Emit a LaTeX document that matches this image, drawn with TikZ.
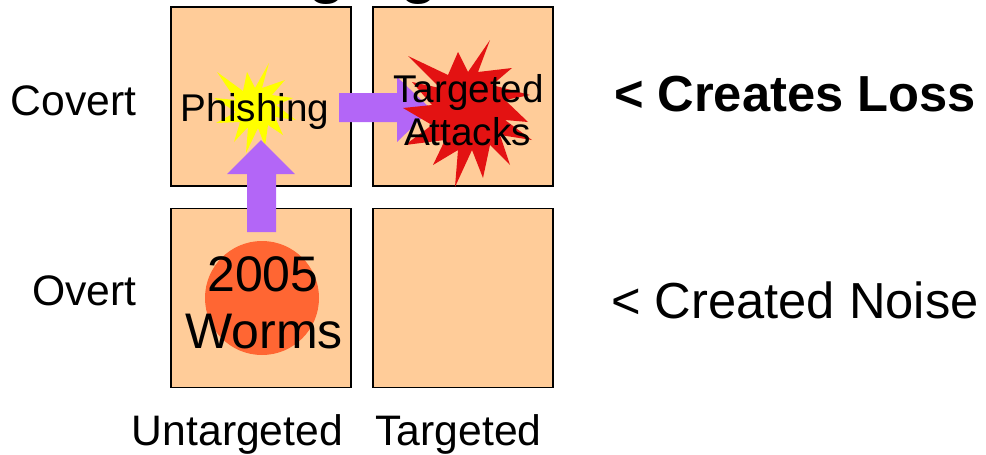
\documentclass[tikz,border=0pt]{standalone}
\usepackage{fontspec}
\setmainfont{Liberation Sans}
\definecolor{peach}{HTML}{FFCC99}
\definecolor{arrowpurple}{HTML}{B366F7}
\definecolor{starred}{HTML}{E31212}
\definecolor{staryellow}{HTML}{FFFF00}
\definecolor{wormorange}{HTML}{FF6633}
\begin{document}
\begin{tikzpicture}[x=0.75pt,y=-0.75pt,
  box/.style={draw=black, line width=1.1pt, fill=peach, minimum width=135pt, minimum height=134.25pt, inner sep=0pt},
  lbl/.style={inner sep=0pt, anchor=base},
  axis/.style={lbl, font=\fontsize{32}{36}\selectfont},
  side/.style={lbl, font=\fontsize{38}{42}\selectfont},
  small/.style={lbl, font=\fontsize{29}{32}\selectfont},
  big/.style={lbl, font=\fontsize{37.5}{42}\selectfont},
  blockarrow/.style={fill=arrowpurple, draw=none}]
\useasboundingbox (0,0) rectangle (986,454);
% cut-off title
\node[lbl, anchor=base west, font=\bfseries\fontsize{46}{50}\selectfont] (title) at (155,-8.5) {Changing};
% quadrants
\node[box] (tl) at (261,96.5) {};
\node[box] (tr) at (463,96.5) {};
\node[box] (bl) at (261,298) {};
\node[box] (br) at (463,298) {};
% worms
\fill[wormorange] (262,298) circle[radius=42.75pt];
\node[big] (worms1) at (263,291) {2005};
\node[big] (worms2) at (264,348) {Worms};
% phishing star
\fill[staryellow] (269,63) -- (262,88) -- (285,80) -- (272,95) -- (293,98) -- (276,105) -- (296,120) -- (275,117) -- (283,135) -- (268,125) -- (265,146) -- (258,128) -- (246,153) -- (248,127) -- (234,142) -- (240,122) -- (216,123) -- (236,112) -- (214,98) -- (236,100) -- (217,72) -- (243,91) -- (247,72) -- (255,88) -- cycle;
\node[small] (phish) at (255,121) {Phishing};
% up arrow
\fill[blockarrow] (247,232) -- (247,174) -- (227,174) -- (261,140) -- (295,174) -- (276,174) -- (276,232) -- cycle;
% right arrow
\fill[blockarrow] (339,93) -- (397,93) -- (397,77) -- (431,109) -- (397,142) -- (397,122) -- (339,122) -- cycle;
% targeted attack star
\fill[starred] (490,40) -- (478,72) -- (512,68) -- (492,85) -- (530,95) -- (505,100) -- (528,122) -- (505,120) -- (532,140) -- (500,135) -- (510,165) -- (490,145) -- (483,178) -- (472,150) -- (455,187) -- (458,150) -- (433,165) -- (445,140) -- (405,145) -- (432,125) -- (403,108) -- (432,105) -- (412,82) -- (440,88) -- (408,56) -- (448,75) -- (458,52) -- (468,72) -- cycle;
\node[small] (ta1) at (468.5,102) {Targeted};
\node[small] (ta2) at (467.5,145) {Attacks};
% axis labels
\node[axis] (covert) at (73.5,115) {Covert};
\node[axis] (overt) at (84.5,305) {Overt};
\node[axis] (untarg) at (237.5,445) {Untargeted};
\node[axis] (targ) at (458.5,445) {Targeted};
\node[side, font=\bfseries\fontsize{38}{42}\selectfont] (loss) at (795,111) {< Creates Loss};
\node[side] (noise) at (795,318) {< Created Noise};
\end{tikzpicture}
\end{document}
